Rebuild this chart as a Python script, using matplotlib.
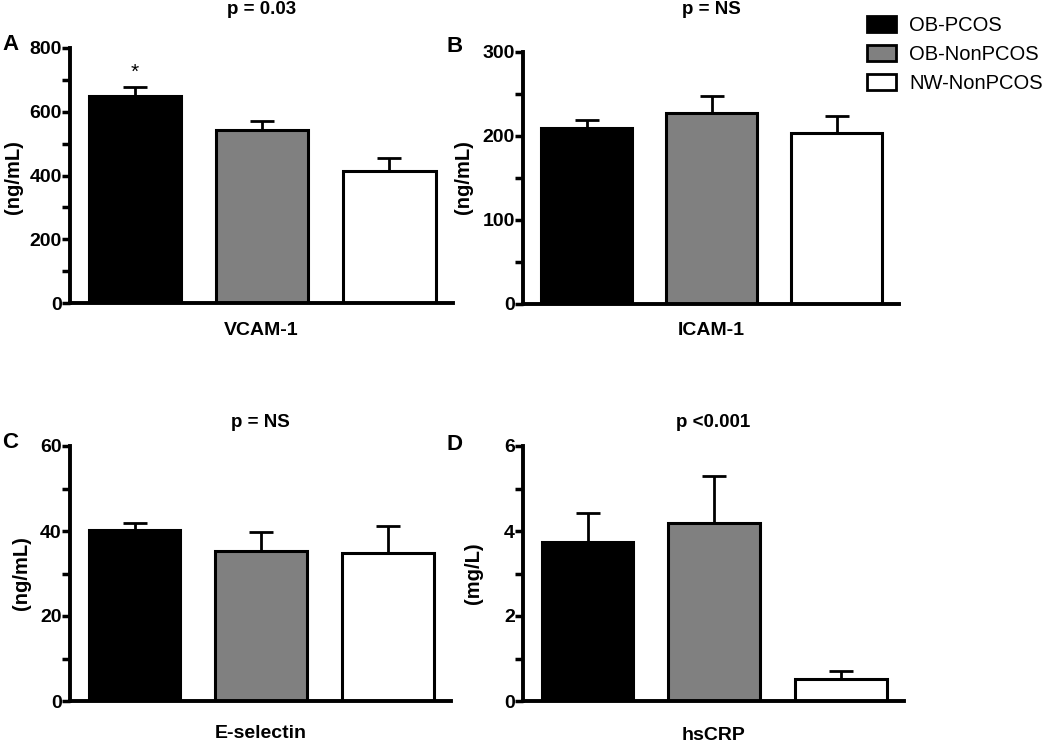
import numpy as np
import matplotlib
matplotlib.use("Agg")
import matplotlib.pyplot as plt
from matplotlib.patches import Patch
from matplotlib.ticker import MultipleLocator

plt.rcParams['font.family'] = ['Liberation Sans', 'DejaVu Sans']

# groups / colours
groups = ['OB-PCOS', 'OB-NonPCOS', 'NW-NonPCOS']
colors = ['#000000', '#808080', '#ffffff']

# panel values (mean, SEM)
vcam_mean = [650, 543, 415]
vcam_err = [27, 28, 40]
icam_mean = [210, 227, 203]
icam_err = [9, 21, 21]
esel_mean = [40.3, 35.2, 34.9]
esel_err = [1.5, 4.6, 6.3]
crp_mean = [3.73, 4.19, 0.51]
crp_err = [0.70, 1.11, 0.20]

panels = [
    # letter, title, xlabel, ylabel, mean, err, ymax, major, minor
    ('A', 'p = 0.03', 'VCAM-1', '(ng/mL)', vcam_mean, vcam_err, 800, 200, 100),
    ('B', 'p = NS', 'ICAM-1', '(ng/mL)', icam_mean, icam_err, 300, 100, 50),
    ('C', 'p = NS', 'E-selectin', '(ng/mL)', esel_mean, esel_err, 60, 20, 10),
    ('D', 'p <0.001', 'hsCRP', '(mg/L)', crp_mean, crp_err, 6, 2, 1),
]

W, H = 1050, 744
# axes rects in pixels: left, right, top, bottom
rects = [(70, 453, 48, 303), (523, 899, 52, 304),
         (70, 451, 446, 701), (523, 904, 446, 701)]
ylab_pos = [(14, 177), (464, 177), (22, 573), (474, 573)]
letter_pos = [(10, 44), (455, 47), (10, 443), (455, 444)]
title_y = [9, 10, 422, 422]
xlab_y = [330, 330, 734, 735]

fig = plt.figure(figsize=(W / 100, H / 100), dpi=100)

for i, (letter, title, xlab, ylab, mean, err, ymax, major, minor) in enumerate(panels):
    l, r, t, b = rects[i]
    ax = fig.add_axes([l / W, (H - b) / H, (r - l) / W, (b - t) / H])
    x = np.arange(len(groups))
    ax.bar(x, mean, width=0.725, color=colors, edgecolor='black', linewidth=2.2, zorder=2)
    ax.errorbar(x, mean, yerr=[np.zeros(len(err)), err], fmt='none', ecolor='black',
                elinewidth=2, capsize=8.5, capthick=2, zorder=1)
    ax.set_xlim(-0.51, 2.5)
    ax.set_ylim(0, ymax)
    ax.set_xticks([])
    ax.yaxis.set_major_locator(MultipleLocator(major))
    ax.yaxis.set_minor_locator(MultipleLocator(minor))
    ax.tick_params(axis='y', which='both', length=6, width=2.5, direction='out', pad=0)
    for lab in ax.get_yticklabels():
        lab.set_fontweight('bold')
        lab.set_fontsize(14)
    for s in ['top', 'right']:
        ax.spines[s].set_visible(False)
    for s in ['left', 'bottom']:
        ax.spines[s].set_linewidth(2.8)
        ax.spines[s].set_zorder(3)
    for sp in ax.spines.values():
        sp.set_clip_on(False)

    cx = (l + r) / 2
    fig.text(cx / W, 1 - title_y[i] / H, title, ha='center', va='center',
             fontsize=13.5, fontweight='bold')
    fig.text(cx / W, 1 - xlab_y[i] / H, xlab, ha='center', va='center',
             fontsize=14, fontweight='bold')
    fig.text(ylab_pos[i][0] / W, 1 - ylab_pos[i][1] / H, ylab, ha='center', va='center',
             rotation=90, fontsize=14.5, fontweight='bold')
    fig.text(letter_pos[i][0] / W, 1 - letter_pos[i][1] / H, letter, ha='center', va='center',
             fontsize=16, fontweight='bold')

    if letter == 'A':
        ax.annotate('*', xy=(0, mean[0] + err[0]), xytext=(0, 11), textcoords='offset points',
                    ha='center', va='center', fontsize=15)

handles = [Patch(facecolor=c, edgecolor='black', linewidth=2) for c in colors]
fig.legend(handles, groups, loc='upper left', bbox_to_anchor=(867 / W, 1 - 16 / H),
           frameon=False, fontsize=14.5, handlelength=1.45, handleheight=0.8,
           handletextpad=0.65, labelspacing=0.5, borderpad=0, borderaxespad=0)

fig.savefig('out.png', dpi=100)
